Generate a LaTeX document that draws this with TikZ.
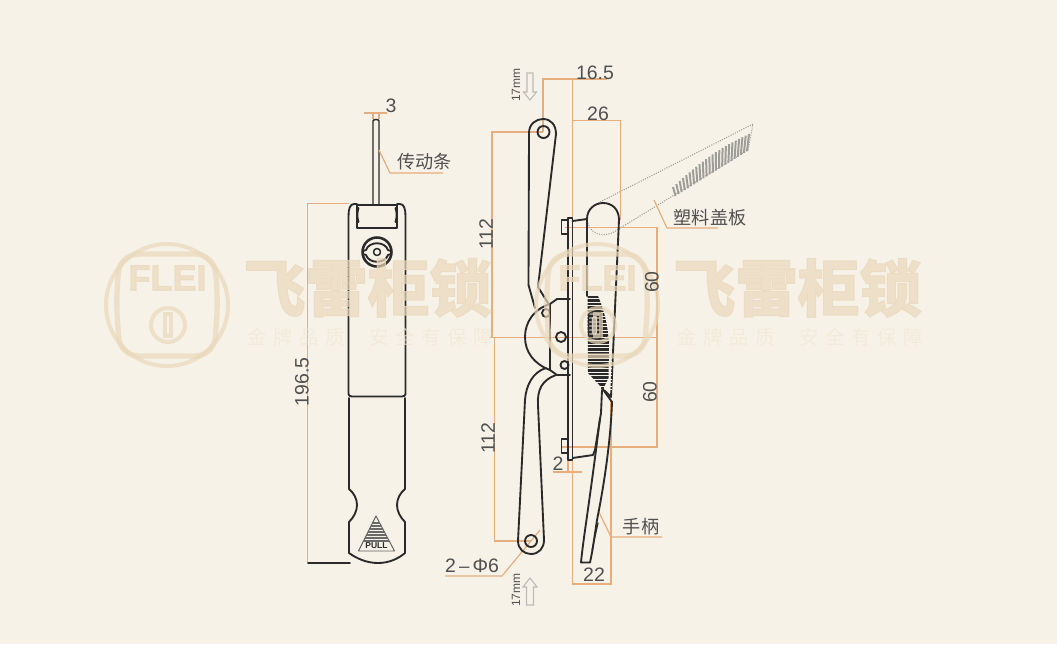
\documentclass[tikz,border=0pt]{standalone}
\usepackage{fontspec}
\usetikzlibrary{calc}
\setmainfont{Liberation Sans}
\newfontfamily\cjk{Noto Sans CJK SC}
\newfontfamily\cjkheavy[BoldFeatures={FakeBold=1.5}]{Noto Sans CJK SC}
\newfontfamily\cjkspaced[LetterSpace=35]{Noto Sans CJK SC}
\newfontfamily\heavy[FakeBold=2.5]{Liberation Sans Bold}
\definecolor{paper}{HTML}{F7F2E7}
\definecolor{ink}{HTML}{2A2A2A}
\definecolor{dimc}{HTML}{E6AE7E}
\definecolor{txt}{HTML}{505050}
\definecolor{wm}{HTML}{E9D8BB}
\definecolor{wmfaint}{HTML}{F0E7D6}
\definecolor{ghost}{HTML}{9E9E98}
\tikzset{
 part/.style={draw=ink,line width=1.4pt,line join=round,line cap=round},
 dimline/.style={draw=dimc,line width=.9pt},
 ghostline/.style={draw=ghost,line width=.8pt,densely dotted},
 lab/.style={inner sep=0pt,text=txt,font=\fontsize{14.6}{15}\selectfont},
 cnlab/.style={inner sep=0pt,text=txt,font=\cjk\fontsize{13.6}{15}\selectfont},
 smalllab/.style={inner sep=0pt,text=txt,font=\fontsize{9}{10}\selectfont},
 hollow/.style={draw=ghost!70,fill=paper,line width=.8pt,line join=miter},
}
\begin{document}
\begin{tikzpicture}[x=.75pt,y=-.75pt]
\fill[paper] (0,0) rectangle (1057,644);
\useasboundingbox (0,0) rectangle (1057,644);

% ---------- left view ----------
\draw[part,line width=1.1pt] (373,205) -- (373,121) .. controls (373,119) and (379,119) .. (379,121) -- (379,205);
\draw[part] (348.5,394) -- (348.5,216) .. controls (348.5,209) and (350,204) .. (354,204) -- (357,204)
  -- (357,228) -- (397,228) -- (397,204) -- (400,204) .. controls (404,204) and (405.5,209) .. (405.5,216) -- (405.5,394)
  .. controls (405.5,396) and (404,396) .. (402,396.5) -- (352,396.5) .. controls (350,396) and (348.5,396) .. (348.5,394);
\draw[part] (357,205) -- (397,205);
\draw[part] (358.5,208) .. controls (357,212) and (357,218) .. (358.5,222);
\draw[part] (395.5,208) .. controls (397,212) and (397,218) .. (395.5,222);
\draw[part] (349,398) -- (349,489) .. controls (354,493) and (357,499) .. (357,505) .. controls (357,511) and (354,517) .. (349,522)
  -- (349,553) .. controls (356,558) and (366,563) .. (378,563) .. controls (390,563) and (399,558) .. (405,553)
  -- (405,522) .. controls (400,517) and (397,511) .. (397,505) .. controls (397,499) and (400,493) .. (405,489) -- (405,398);
% lock symbol
\draw[part,line width=1.9pt] (377,252) circle[radius=14.5];
\draw[part,line width=1.1pt] (377,252) circle[radius=3.5];
\draw[part,line width=1.4pt] (363,251) -- (366,250) .. controls (369,241) and (385,241) .. (388,250) -- (391,251);
\draw[part,line width=1.4pt] (363,254) -- (366,255) .. controls (369,264) and (385,264) .. (388,255) -- (391,254);
% pull triangle
\draw[draw=ink!75,line width=.7pt,line join=round] (376,516) -- (358.5,551) -- (394.5,551) -- cycle;
\foreach \yy/\hw in {523/3.5,526/5,529/6.5,532/8,535/9.5,538/11,541/12.5}{
  \draw[draw=ink!70,line width=1.1pt] (376-\hw,\yy) -- (376+\hw,\yy);}
\node[inner sep=0pt,text=ink,font=\bfseries\fontsize{6.4}{7}\selectfont] (pull) at (376.5,545.6) {PULL};
% dims left
\draw[dimline] (364,113) -- (387,113) (373,113) -- (373,119) (379,113) -- (379,119);
\draw[dimline] (379,150) -- (390,173) -- (443,173);
\draw[dimline] (349,203.5) -- (307.5,203.5) -- (307.5,563);
\draw[part] (308,563.3) -- (350,563.3);

% ---------- open cover ghost ----------
\draw[ghostline] (598,203) -- (753,124) -- (748,150) -- (617,230) .. controls (611,235) and (597,238) .. (590,228) -- (587,221);
\foreach \t in {0,0.0435,...,1.01}{
  \pgfmathsetmacro\lift{5*sin(180*\t)}
  \draw[draw=ghost,line width=1.5pt] ($(673,187-\lift)!\t!(749,134-\lift)$) -- ($(675.5,196)!\t!(747,151)$);}

% ---------- dims right (behind parts) ----------
\draw[dimline] (543,132) -- (543,79) -- (607,79);
\draw[dimline] (572.5,79) -- (572.5,584) -- (611,584) -- (611,400);
\draw[dimline] (572.5,120.5) -- (620.5,120.5) -- (620.5,220);
\draw[dimline] (543,132) -- (492,132) -- (492,337.5);
\draw[dimline] (494.5,337.5) -- (494.5,541) -- (531,541);
\draw[dimline] (490,337.5) -- (657,337.5);
\draw[dimline] (565,227.5) -- (657,227.5) -- (657,447) -- (561,447);
\draw[dimline] (553,472) -- (582,472) (568,460) -- (568,472);
\draw[dimline] (654,200) -- (667,228) -- (718,228);
\draw[dimline] (598,510) -- (611,537) -- (662,537);
\draw[dimline] (540,530) -- (502,576) -- (445,576);

% ---------- right view parts ----------
% upper arm
\draw[part] (528.5,285) -- (529,133) .. controls (529,124) and (536,119) .. (543,119) .. controls (551,119) and (556,125) .. (556,134) -- (538,287) -- (548,303);
\draw[part] (528.5,285) -- (535,308);
\draw[part] (543.5,132) circle[radius=6];
% hub
\draw[part] (570,299) -- (557,299) -- (550,304) -- (550,370) -- (557,375) -- (570,375);
\draw[part] (550,304) .. controls (534,309) and (525,322) .. (525,337) .. controls (525,352) and (534,364) .. (550,370);
\draw[part] (546,313) circle[radius=4];
\draw[part] (561,337) circle[radius=5];
\draw[part] (564.5,365) circle[radius=4];
% plate
\draw[part] (568,460) -- (568,218) -- (572.5,218) -- (572.5,460) -- cycle;
\draw[part,line width=1pt] (568,220) -- (561.5,220) -- (561.5,234) -- (568,234);
\draw[part,line width=1pt] (568,439) -- (561.5,439) -- (561.5,453) -- (568,453);
% cover
\draw[part] (572.5,221) -- (587,219);
\draw[part] (587,296) -- (587,219) .. controls (587,209) and (595,203) .. (603,203) .. controls (612,203) and (619,209) .. (619,220) -- (611,397) -- (602,388);
\fill[ink] (587.5,296) -- (598,296) .. controls (604,310) and (608,325) .. (609,345) -- (608.5,378) -- (603,389) -- (588,373) -- cycle;
\foreach \yy in {298.5,302,...,390}{
  \draw[draw=paper,line width=.55pt] (586,\yy) -- (612,\yy);}
\draw[draw=ink,fill=ink!55,line width=1pt,rounded corners=2pt] (588.5,312) rectangle (601,339);
\foreach \yy in {316,320,...,336}{\draw[draw=ink,line width=.9pt] (589,\yy) -- (600.5,\yy);}
\draw[draw=paper!85!black,line width=.9pt,rounded corners=1pt] (592.5,317) rectangle (596.5,334);
% bracket and handle
\draw[part] (572.5,458) -- (593,455) -- (595,450) -- (601,413) -- (602,390);
\draw[part] (602,388) -- (612,402) .. controls (611,430) and (607,470) .. (597,520) -- (592.5,550) -- (590,562.5) -- (581,562.5) .. controls (583,540) and (590,500) .. (600,418);
\draw[part,line width=.9pt] (598,523) -- (592,550);
% lower arm
\draw[part] (546,368) .. controls (533,372) and (526,385) .. (525,400) -- (518,541) .. controls (518,549) and (524,554) .. (531,554) .. controls (539,554) and (544,548) .. (544,540) -- (538,405) .. controls (537,390) and (542,380) .. (556,375);
\draw[part] (531,541) circle[radius=6];

\draw[hollow] (527,73) -- (533,73) -- (533,92) -- (536.5,92) -- (530,100) -- (523.5,92) -- (527,92) -- cycle;
\draw[hollow] (526.5,605) -- (533.5,605) -- (533.5,587) -- (537,587) -- (530,578) -- (523,587) -- (526.5,587) -- cycle;

% ---------- watermarks, laid over the drawing ----------
\foreach \dx/\nm in {0/a,430/b}{
\begin{scope}[shift={(\dx,0)},opacity=.7]
  \draw[draw=wm,line width=3pt] (167,305) circle[radius=61];
  \draw[draw=wm,line width=4pt,rounded corners=14pt] (120,254) -- (214,254) -- (218,300) -- (214,356) -- (120,356) -- (116,300) -- cycle;
  \node[inner sep=0pt,text=wm,font=\heavy\fontsize{27}{28}\selectfont] (flei\nm) at (167.5,278) {FLEI};
  \draw[draw=wm,line width=3pt] (168,325) circle[radius=17];
  \draw[draw=wm,line width=2.4pt] (165,314) rectangle (171,336);
  \node[inner sep=0pt,text=wm,font=\cjkheavy\bfseries\fontsize{46.5}{48}\selectfont] (brand\nm) at (367.5,288) {飞雷柜锁};
  \node[inner sep=0pt,text=wmfaint,font=\cjkspaced\fontsize{14.5}{15}\selectfont] (sloga\nm) at (296,337) {金牌品质};
  \node[inner sep=0pt,text=wmfaint,font=\cjkspaced\fontsize{14.5}{15}\selectfont] (slogb\nm) at (431,337) {安全有保障};
\end{scope}}

% ---------- labels, on top ----------
\node[lab] (d3) at (391,106) {3};
\node[cnlab] (rod) at (424.5,162) {传动条};
\node[lab,rotate=90] (d196) at (302,382) {196.5};
\node[lab] (d165) at (595,72.5) {16.5};
\node[lab] (d26) at (598,113.5) {26};
\node[lab,rotate=90] (d112a) at (486,234) {112};
\node[lab,rotate=90] (d112b) at (488,438) {112};
\node[lab,rotate=90] (d60a) at (652,282) {60};
\node[lab,rotate=90] (d60b) at (650,392) {60};
\node[lab] (d2) at (558,464) {2};
\node[lab] (d22) at (594,574.5) {22};
\node[lab] (dphi) at (472,565.5) {2{\fontsize{14}{14}\selectfont\,–\,}Φ6};
\node[cnlab] (cover) at (710,218) {塑料盖板};
\node[cnlab] (handle) at (641,527) {手柄};
\node[smalllab,rotate=90] (mma) at (516,85) {17mm};
\node[smalllab,rotate=90] (mmb) at (516,590) {17mm};
\end{tikzpicture}
\end{document}
